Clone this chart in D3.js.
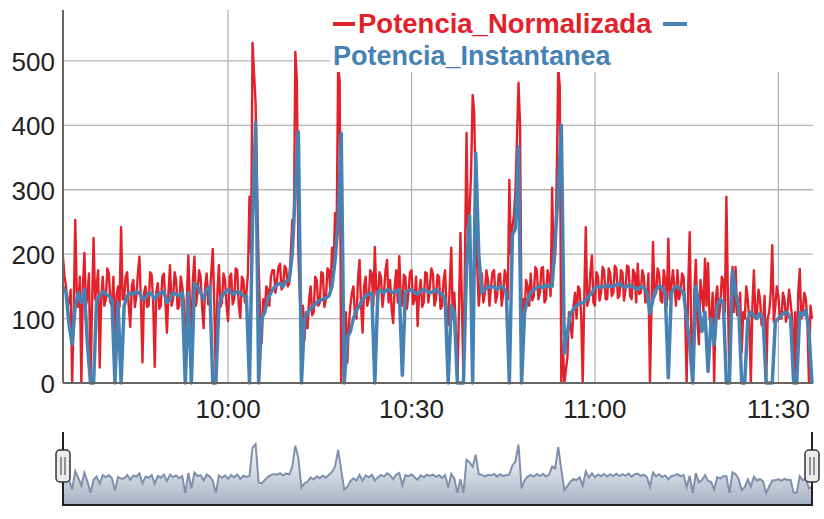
<!DOCTYPE html>
<html>
<head>
<meta charset="utf-8">
<script src="https://cdn.jsdelivr.net/npm/d3@7"></script>
<style>
  body { margin: 0; background: #fff; }
  svg text { font-family: "Liberation Sans", Arial, sans-serif; }
</style>
</head>
<body>
<script>
var w = 824;
var h = 519;

// both series start at 09:33:00; the normalised power is logged every 15 s,
// the instantaneous power every 30 s
var startTime = "09:33:00";
var stepNormalizada = 15;
var stepInstantanea = 30;

var seriesNames = ["Potencia_Normalizada", "Potencia_Instantanea"];

var normalizada = [
  195, 165, 150, 118, 128, 145, 0, 110, 253, 140, 118, 165, 0, 150, 202, 120, 135, 170, 0, 120,
  225, 130, 150, 175, 24, 130, 165, 120, 130, 178, 170, 125, 120, 165, 40, 135, 150, 118, 242, 130,
  130, 165, 172, 120, 87, 150, 160, 118, 135, 170, 196, 125, 32, 140, 150, 118, 120, 172, 168, 125,
  25, 140, 155, 115, 120, 165, 170, 125, 78, 140, 183, 120, 130, 172, 160, 115, 118, 165, 150, 128,
  0, 130, 198, 125, 78, 160, 196, 120, 140, 175, 165, 118, 85, 150, 170, 122, 130, 172, 208, 120,
  0, 140, 183, 118, 125, 170, 160, 120, 96, 165, 170, 122, 130, 178, 175, 120, 101, 165, 160, 125,
  140, 170, 289, 200, 528, 480, 435, 300, 180, 100, 62, 130, 110, 150, 145, 120, 165, 175, 175, 140,
  160, 180, 185, 145, 150, 182, 178, 150, 155, 200, 253, 230, 514, 470, 200, 130, 90, 120, 67, 110,
  85, 130, 150, 105, 110, 165, 160, 120, 125, 172, 170, 118, 130, 178, 175, 140, 210, 180, 264, 230,
  490, 470, 0, 100, 60, 110, 31, 90, 120, 140, 150, 105, 100, 160, 191, 120, 78, 150, 165, 120,
  130, 175, 170, 120, 211, 140, 125, 172, 165, 118, 140, 175, 191, 125, 160, 115, 93, 150, 175, 125,
  197, 130, 120, 168, 165, 115, 140, 172, 175, 122, 130, 165, 88, 140, 160, 118, 125, 172, 170, 125,
  150, 178, 170, 120, 130, 168, 165, 115, 120, 160, 175, 105, 90, 150, 210, 100, 140, 80, 0, 110,
  233, 120, 0, 200, 388, 220, 265, 330, 447, 420, 300, 180, 120, 150, 170, 125, 140, 175, 160, 120,
  150, 172, 175, 125, 135, 168, 170, 120, 140, 175, 165, 130, 315, 200, 242, 260, 300, 380, 466, 400,
  78, 130, 110, 160, 150, 120, 170, 128, 135, 180, 175, 130, 140, 178, 180, 125, 130, 175, 165, 135,
  303, 180, 200, 320, 490, 460, 0, 60, 0, 20, 40, 110, 90, 70, 120, 140, 100, 150, 145, 105,
  0, 130, 242, 120, 130, 170, 198, 125, 120, 172, 165, 128, 140, 180, 175, 130, 130, 178, 170, 135,
  140, 182, 178, 132, 135, 175, 172, 128, 145, 182, 180, 135, 130, 176, 170, 125, 185, 138, 140, 175,
  165, 125, 130, 170, 0, 120, 219, 135, 140, 178, 170, 128, 125, 175, 160, 120, 224, 130, 150, 175,
  150, 120, 175, 130, 140, 170, 165, 110, 0, 150, 234, 80, 0, 140, 191, 100, 60, 160, 140, 110,
  193, 120, 186, 100, 90, 140, 0, 130, 150, 100, 120, 165, 160, 110, 289, 130, 0, 150, 180, 110,
  180, 105, 120, 140, 47, 110, 100, 150, 130, 95, 0, 120, 175, 100, 110, 145, 130, 90, 95, 135,
  0, 100, 110, 140, 214, 95, 120, 150, 135, 100, 100, 140, 130, 95, 115, 145, 125, 100, 0, 110,
  0, 140, 177, 100, 110, 140, 130, 95, 0, 120, 100
];

var instantanea = [
  150, 140, 90, 60, 120, 140, 125, 145, 60, 0,
  0, 130, 135, 142, 138, 135, 130, 0, 125, 0,
  120, 135, 140, 138, 142, 140, 130, 132, 140, 138,
  130, 138, 140, 142, 125, 130, 140, 138, 135, 140,
  0, 140, 0, 155, 150, 140, 130, 145, 150, 0,
  0, 120, 135, 140, 145, 140, 138, 142, 140, 135,
  135, 0, 250, 404, 0, 100, 110, 130, 140, 148,
  152, 155, 150, 158, 160, 200, 300, 390, 0, 100,
  110, 115, 120, 125, 128, 130, 132, 135, 150, 190,
  250, 388, 0, 71, 80, 100, 113, 120, 130, 135,
  138, 140, 0, 142, 144, 140, 145, 143, 140, 142,
  145, 12, 140, 143, 145, 140, 138, 142, 145, 143,
  140, 142, 145, 140, 138, 130, 0, 120, 110, 0,
  0, 0, 180, 260, 0, 357, 200, 140, 145, 150,
  148, 150, 145, 150, 148, 140, 0, 230, 240, 367,
  0, 110, 130, 140, 145, 148, 150, 148, 152, 150,
  150, 220, 300, 400, 46, 80, 108, 115, 120, 124,
  124, 128, 135, 140, 148, 150, 148, 150, 152, 150,
  150, 152, 155, 150, 148, 152, 150, 148, 145, 150,
  148, 140, 108, 130, 145, 150, 148, 140, 8, 140,
  148, 150, 145, 140, 100, 60, 0, 150, 120, 80,
  110, 18, 100, 60, 120, 130, 125, 0, 0, 175,
  140, 120, 0, 0, 100, 110, 105, 100, 108, 100,
  0, 0, 0, 95, 100, 105, 110, 108, 100, 0,
  0, 110, 105, 113, 80, 0
];

var yTicks = [0, 100, 200, 300, 400, 500];
var xTicks = ["10:00", "10:30", "11:00", "11:30"];

var colors = ["#e3212b", "#4682b4"];

// layout
var plot = { left: 63, right: 812, top: 10, bottom: 383 };
var nav = { top: 432, bottom: 505 };

var parseTime = d3.timeParse("%H:%M:%S");
var parseTick = d3.timeParse("%H:%M");
var t0 = parseTime(startTime);
function timesFor(values, step) {
  return values.map(function (d, i) {
    return new Date(t0.getTime() + i * step * 1000);
  });
}
var timesN = timesFor(normalizada, stepNormalizada);
var timesI = timesFor(instantanea, stepInstantanea);

var x = d3.scaleTime()
  .domain(d3.extent(timesI))
  .range([plot.left, plot.right]);

var y = d3.scaleLinear()
  .domain([0, 579])
  .range([plot.bottom, plot.top]);

var svg = d3.select("body").append("svg")
  .attr("width", w)
  .attr("height", h);

// grid
svg.append("g").selectAll("line")
  .data(yTicks.filter(function (d) { return d > 0; }))
  .enter().append("line")
  .attr("x1", plot.left).attr("x2", plot.right + 1)
  .attr("y1", function (d) { return y(d); })
  .attr("y2", function (d) { return y(d); })
  .attr("stroke", "#b4b4b4").attr("stroke-width", 1.3);

svg.append("g").selectAll("line")
  .data(xTicks)
  .enter().append("line")
  .attr("x1", function (d) { return x(parseTick(d)); })
  .attr("x2", function (d) { return x(parseTick(d)); })
  .attr("y1", plot.top).attr("y2", plot.bottom)
  .attr("stroke", "#b4b4b4").attr("stroke-width", 1.3);

// series
function lineFor(times, yScale) {
  return d3.line()
    .x(function (d, i) { return x(times[i]); })
    .y(function (d) { return yScale(d); });
}

svg.append("path")
  .datum(normalizada)
  .attr("d", lineFor(timesN, y))
  .attr("fill", "none")
  .attr("stroke", colors[0])
  .attr("stroke-width", 2.4)
  .attr("stroke-linejoin", "round");

svg.append("path")
  .datum(instantanea)
  .attr("d", lineFor(timesI, y))
  .attr("fill", "none")
  .attr("stroke", colors[1])
  .attr("stroke-width", 3.5)
  .attr("stroke-linejoin", "round");

// axes
svg.append("line")
  .attr("x1", plot.left).attr("x2", plot.left)
  .attr("y1", plot.top).attr("y2", plot.bottom)
  .attr("stroke", "#666").attr("stroke-width", 2);
svg.append("line")
  .attr("x1", plot.left).attr("x2", plot.right + 1)
  .attr("y1", plot.bottom).attr("y2", plot.bottom)
  .attr("stroke", "#666").attr("stroke-width", 2);

svg.append("g").selectAll("text")
  .data(yTicks)
  .enter().append("text")
  .attr("x", 55)
  .attr("y", function (d) { return y(d) + 10; })
  .attr("text-anchor", "end")
  .attr("font-size", 26)
  .attr("fill", "#222")
  .text(function (d) { return d; });

svg.append("g").selectAll("text")
  .data(xTicks)
  .enter().append("text")
  .attr("x", function (d) { return x(parseTick(d)); })
  .attr("y", 418)
  .attr("text-anchor", "middle")
  .attr("font-size", 26)
  .attr("fill", "#222")
  .text(function (d) { return d; });

// legend (white box over the top of the plot)
svg.append("rect")
  .attr("x", 330).attr("y", 0)
  .attr("width", w - 330).attr("height", 72)
  .attr("fill", "#fff");

svg.append("line")
  .attr("x1", 333).attr("x2", 355).attr("y1", 24).attr("y2", 24)
  .attr("stroke", colors[0]).attr("stroke-width", 4);
svg.append("text")
  .attr("x", 358).attr("y", 33)
  .attr("font-size", 27.5).attr("font-weight", "bold")
  .attr("fill", colors[0])
  .text(seriesNames[0]);
svg.append("line")
  .attr("x1", 663).attr("x2", 687).attr("y1", 24).attr("y2", 24)
  .attr("stroke", colors[1]).attr("stroke-width", 4);
svg.append("text")
  .attr("x", 333).attr("y", 65)
  .attr("font-size", 27).attr("font-weight", "bold")
  .attr("fill", colors[1])
  .text(seriesNames[1]);

// range selector: mean of both series at the 30 s samples
var ratio = stepInstantanea / stepNormalizada;
var combined = instantanea.map(function (d, i) { return (d + normalizada[i * ratio]) / 2; });
var ext = d3.extent(combined);
var extra = (ext[1] - ext[0]) * 0.25;
var yNav = d3.scaleLinear()
  .domain([ext[0] - extra, ext[1] + extra])
  .range([nav.bottom, nav.top]);

var grad = svg.append("defs").append("linearGradient")
  .attr("id", "navfill")
  .attr("x1", 0).attr("x2", 0).attr("y1", 0).attr("y2", 1);
grad.append("stop").attr("offset", "0%").attr("stop-color", "#ffffff");
grad.append("stop").attr("offset", "100%").attr("stop-color", "#a7b1c4");

var navArea = d3.area()
  .x(function (d, i) { return x(timesI[i]); })
  .y0(nav.bottom)
  .y1(function (d) { return yNav(d); });

svg.append("path")
  .datum(combined)
  .attr("d", navArea)
  .attr("fill", "url(#navfill)");

svg.append("path")
  .datum(combined)
  .attr("d", lineFor(timesI, yNav))
  .attr("fill", "none")
  .attr("stroke", "#808fab")
  .attr("stroke-width", 2);

svg.append("path")
  .attr("d", "M" + plot.left + "," + nav.top + "V" + nav.bottom + "H" + plot.right + "V" + nav.top)
  .attr("fill", "none")
  .attr("stroke", "#222")
  .attr("stroke-width", 2);

var handles = svg.append("g").selectAll("g")
  .data([plot.left, plot.right])
  .enter().append("g")
  .attr("transform", function (d) { return "translate(" + d + ",466)"; });
handles.append("rect")
  .attr("x", -7).attr("y", -16)
  .attr("width", 14).attr("height", 32)
  .attr("rx", 4)
  .attr("fill", "#ececec")
  .attr("stroke", "#333").attr("stroke-width", 1.5);
handles.selectAll("line")
  .data([-2, 2])
  .enter().append("line")
  .attr("x1", function (d) { return d; }).attr("x2", function (d) { return d; })
  .attr("y1", -9).attr("y2", 9)
  .attr("stroke", "#555").attr("stroke-width", 1.2);
</script>
</body>
</html>
